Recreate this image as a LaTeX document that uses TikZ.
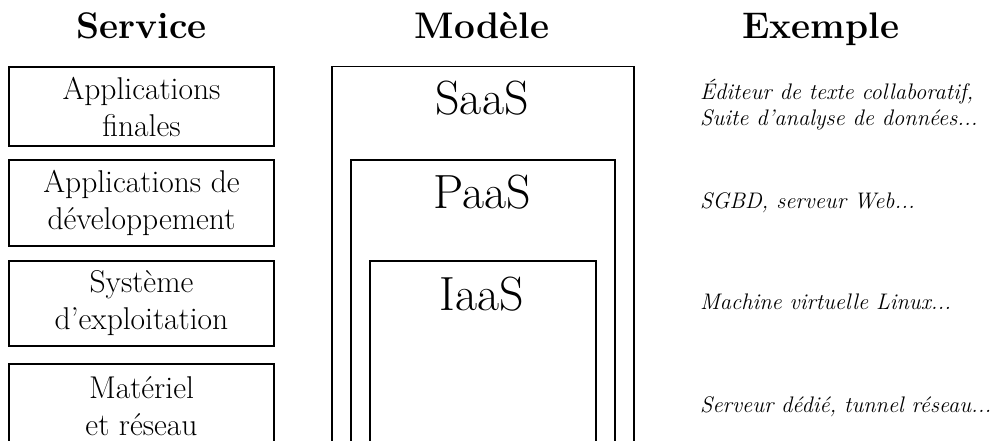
\documentclass[tikz,border=0pt]{standalone}
\usepackage{fontspec}
\begin{document}
\begin{tikzpicture}[x=1pt,y=-1pt,
  title/.style={font=\bfseries\fontsize{37}{40}\selectfont, anchor=base, inner sep=0pt},
  svcbox/.style={draw, line width=1.3pt, minimum width=265pt, align=center, inner sep=0pt, font=\fontsize{31.5}{37}\selectfont},
  layer/.style={draw, line width=1.5pt, anchor=north west, inner sep=0pt},
  layerlabel/.style={font=\fontsize{48}{52}\selectfont, anchor=base, inner sep=0pt},
  example/.style={font=\itshape\fontsize{22.5}{25}\selectfont, anchor=base west, inner sep=0pt}]
\useasboundingbox (0,0) rectangle (998,441);
\clip (0,0) rectangle (998,441);
% titles
\node[title] (tservice) at (141.5,39) {Service};
\node[title] (tmodele) at (482,39) {Modèle};
\node[title] (texemple) at (821,39) {Exemple};
% service boxes
\node[svcbox, minimum height=79pt] (s1) at (141.5,106.5) {Applications\\finales};
\node[svcbox, minimum height=86pt] (s2) at (141.5,203) {Applications de\\développement};
\node[svcbox, minimum height=85pt] (s3) at (141.5,303.5) {Système\\d’exploitation};
\node[svcbox, minimum height=85pt] (s4) at (141.5,406.5) {Matériel\\et réseau};
% nested layers
\node[layer, minimum width=302pt, minimum height=420pt] (saas) at (331,66) {};
\node[layer, minimum width=264pt, minimum height=320pt] (paas) at (350,159) {};
\node[layer, minimum width=226pt, minimum height=220pt] (iaas) at (369,260) {};
\node[layerlabel] (lsaas) at (482,115) {SaaS};
\node[layerlabel] (lpaas) at (482,208) {PaaS};
\node[layerlabel] (liaas) at (482,310) {IaaS};
% examples
\node[example] (e1a) at (700,100) {Éditeur de texte collaboratif,};
\node[example] (e1b) at (700,125) {Suite d’analyse de données...};
\node[example] (e2) at (700,208) {SGBD, serveur Web...};
\node[example] (e3) at (700,309) {Machine virtuelle Linux...};
\node[example] (e4) at (700,412) {Serveur dédié, tunnel réseau...};
\end{tikzpicture}
\end{document}
